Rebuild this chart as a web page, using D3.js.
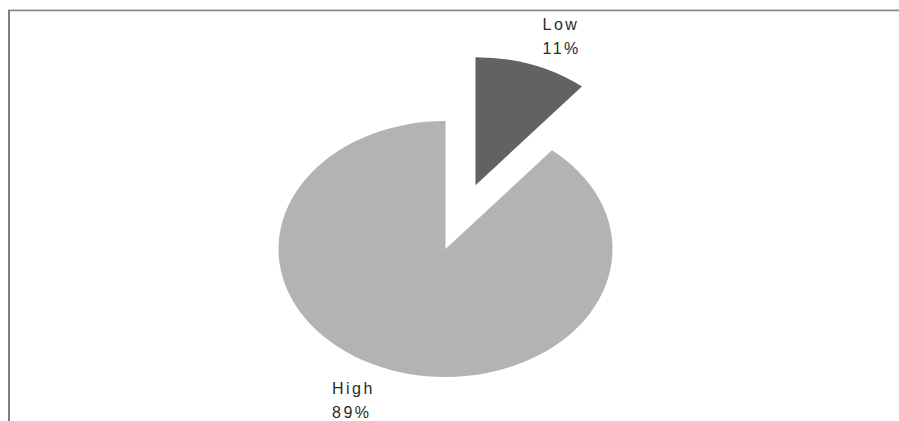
<!DOCTYPE html>
<html>
<head>
<meta charset="utf-8">
<script src="https://cdn.jsdelivr.net/npm/d3@7"></script>
<style>
  html, body { margin: 0; padding: 0; background: #fff; }
  svg { display: block; }
  text { font-family: "Liberation Sans", Arial, sans-serif; font-size: 16px; fill: #2a2a2a; letter-spacing: 2.5px; }
</style>
</head>
<body>
<svg id="chart" width="899" height="421"></svg>
<script>
const categories = ["Low", "High"];
const values = [11, 89];
const colors = ["#626262", "#b3b3b3"];

const W = 899, H = 421;
const cx = 445.5, cy = 249;
const ry = 128, rx = 167;
const explode = [0.53, 0];

const svg = d3.select("#chart");

// frame
svg.append("line").attr("x1", 8).attr("x2", W).attr("y1", 9.5).attr("y2", 9.5)
  .attr("stroke", "#e4e4e4").attr("stroke-width", 1);
svg.append("line").attr("x1", 8).attr("x2", W).attr("y1", 10.5).attr("y2", 10.5)
  .attr("stroke", "#858585").attr("stroke-width", 1.4);
svg.append("line").attr("x1", 9).attr("x2", 9).attr("y1", 10).attr("y2", H)
  .attr("stroke", "#808080").attr("stroke-width", 2);

const total = d3.sum(values);
const data = categories.map((c, i) => ({ cat: c, value: values[i], color: colors[i], ex: explode[i] }));

const pie = d3.pie().sort(null).value(d => d.value);
const arcs = pie(data);
const arc = d3.arc().innerRadius(0).outerRadius(ry);

const g = svg.append("g").attr("transform", `translate(${cx},${cy}) scale(${rx / ry},1)`);

g.selectAll("path").data(arcs).enter().append("path")
  .attr("d", arc)
  .attr("fill", d => d.data.color)
  .attr("transform", d => {
    const a = (d.startAngle + d.endAngle) / 2;
    const e = d.data.ex * ry;
    return `translate(${e * Math.sin(a)},${-e * Math.cos(a)})`;
  });

// labels
const labelPos = {
  "Low": [cx + 97, cy - 219],
  "High": [cx - 113.5, cy + 145]
};
arcs.forEach(d => {
  const p = labelPos[d.data.cat];
  const t = svg.append("text").attr("x", p[0]).attr("y", p[1]);
  t.append("tspan").attr("x", p[0]).attr("dy", 0).text(d.data.cat);
  t.append("tspan").attr("x", p[0]).attr("dy", 23.5).text(Math.round(d.data.value / total * 100) + "%");
});
</script>
</body>
</html>
